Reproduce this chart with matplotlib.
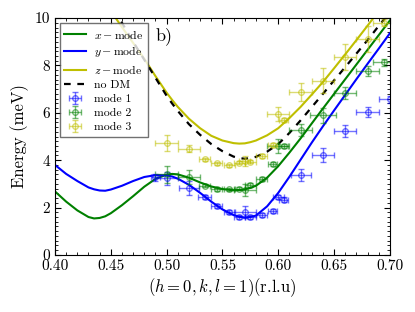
import numpy as np
import matplotlib
matplotlib.use('Agg')
import matplotlib.pyplot as plt
from matplotlib.ticker import MultipleLocator

plt.rcParams['font.family'] = 'serif'
plt.rcParams['font.serif'] = ['cmr10']
plt.rcParams['mathtext.fontset'] = 'cm'
plt.rcParams['axes.formatter.use_mathtext'] = True
plt.rcParams['axes.unicode_minus'] = False

# theory curves
k_curve = [0.40, 0.41, 0.42, 0.43, 0.435, 0.44, 0.445, 0.45, 0.46, 0.47, 0.48, 0.49, 0.50,
           0.505, 0.51, 0.52, 0.53, 0.54, 0.55, 0.56, 0.565, 0.57, 0.575, 0.58, 0.59, 0.60,
           0.61, 0.62, 0.63, 0.64, 0.65, 0.66, 0.67, 0.68, 0.69, 0.70]
x_mode = [2.68, 2.25, 1.88, 1.60, 1.54, 1.56, 1.63, 1.76, 2.10, 2.48, 2.88, 3.21, 3.39,
          3.42, 3.40, 3.26, 3.06, 2.89, 2.78, 2.73, 2.74, 2.77, 2.83, 2.92, 3.26, 3.75,
          4.32, 4.92, 5.55, 6.18, 6.80, 7.42, 8.04, 8.66, 9.28, 9.90]
y_mode = [3.80, 3.42, 3.12, 2.85, 2.77, 2.72, 2.71, 2.76, 2.92, 3.12, 3.29, 3.37, 3.36,
          3.31, 3.22, 2.96, 2.62, 2.25, 1.92, 1.68, 1.61, 1.58, 1.60, 1.66, 2.05, 2.62,
          3.30, 4.02, 4.74, 5.43, 6.10, 6.76, 7.42, 8.07, 8.71, 9.36]
z_mode = [12.0, 11.0, 11.0, 11.0, 11.0, 11.0, 10.65, 10.30, 9.62, 8.95, 8.28, 7.55, 6.85,
          6.54, 6.25, 5.75, 5.35, 5.03, 4.83, 4.72, 4.70, 4.71, 4.76, 4.83, 5.05, 5.35,
          5.78, 6.25, 6.77, 7.30, 7.88, 8.47, 9.07, 9.68, 10.30, 10.9]
no_dm = [12.0, 11.0, 11.0, 11.0, 11.0, 11.0, 10.95, 10.55, 9.80, 9.00, 8.24, 7.48, 6.72,
         6.39, 6.08, 5.52, 5.07, 4.68, 4.38, 4.15, 4.09, 4.06, 4.09, 4.14, 4.36, 4.68,
         5.15, 5.68, 6.24, 6.80, 7.37, 7.93, 8.50, 9.07, 9.67, 10.25]

# measured modes
k1 = [0.490, 0.500, 0.520, 0.534, 0.545, 0.556, 0.565, 0.570, 0.575, 0.585,
      0.595, 0.600, 0.605, 0.620, 0.640, 0.660, 0.680, 0.700]
e1 = [3.27, 3.23, 2.81, 2.46, 2.06, 1.80, 1.61, 1.81, 1.61, 1.68,
      1.87, 2.45, 2.33, 3.37, 4.21, 5.23, 6.04, 6.57]
dk1 = [0.004, 0.01, 0.009, 0.006, 0.005, 0.005, 0.005, 0.01, 0.005, 0.005,
       0.004, 0.005, 0.004, 0.009, 0.01, 0.01, 0.01, 0.01]
de1 = [0.15, 0.28, 0.3, 0.08, 0.08, 0.08, 0.08, 0.25, 0.08, 0.08,
       0.08, 0.1, 0.1, 0.25, 0.3, 0.25, 0.2, 0.15]

k2 = [0.500, 0.520, 0.534, 0.545, 0.556, 0.565, 0.570, 0.575, 0.585, 0.595,
      0.600, 0.605, 0.620, 0.640, 0.660, 0.680, 0.695]
e2 = [3.40, 3.30, 2.93, 2.77, 2.77, 2.80, 2.75, 2.95, 3.20, 3.84,
      4.59, 4.59, 5.29, 5.89, 6.85, 7.76, 8.14]
dk2 = [0.01, 0.01, 0.005, 0.005, 0.005, 0.005, 0.01, 0.005, 0.005, 0.004,
       0.01, 0.004, 0.01, 0.012, 0.01, 0.01, 0.01]
de2 = [0.35, 0.3, 0.08, 0.06, 0.06, 0.06, 0.25, 0.08, 0.08, 0.08,
       0.3, 0.08, 0.25, 0.3, 0.25, 0.2, 0.15]

k3 = [0.500, 0.520, 0.534, 0.545, 0.556, 0.565, 0.570, 0.575, 0.585, 0.595,
      0.600, 0.605, 0.620, 0.640, 0.660, 0.680, 0.695]
e3 = [4.73, 4.49, 4.03, 3.86, 3.79, 3.90, 3.96, 3.94, 4.17, 4.63,
      5.94, 5.70, 6.86, 7.36, 8.35, 9.12, 9.80]
dk3 = [0.01, 0.01, 0.005, 0.005, 0.005, 0.005, 0.005, 0.005, 0.005, 0.004,
       0.01, 0.004, 0.01, 0.01, 0.01, 0.01, 0.01]
de3 = [0.35, 0.15, 0.08, 0.06, 0.06, 0.06, 0.2, 0.08, 0.08, 0.08,
       0.3, 0.08, 0.38, 0.53, 0.55, 0.55, 0.15]

fig = plt.figure(figsize=(4.15, 3.12), dpi=100)
ax = fig.add_axes([0.1325, 0.183, 0.807, 0.759])

l1, = ax.plot(k_curve, x_mode, color='g', lw=1.5, label=r'$x-\mathrm{mode}$')
l2, = ax.plot(k_curve, y_mode, color='b', lw=1.5, label=r'$y-\mathrm{mode}$')
l3, = ax.plot(k_curve, z_mode, color='y', lw=1.5, label=r'$z-\mathrm{mode}$')
l4, = ax.plot(k_curve, no_dm, color='k', lw=1.6, ls='--', dashes=(3, 3), label='no DM')

eb_kw = dict(fmt='o', ms=4, mfc='none', mew=1, capsize=2, elinewidth=1, alpha=0.55)
m1 = ax.errorbar(k1, e1, yerr=de1, xerr=dk1, color='b', label='mode 1', **eb_kw)
m2 = ax.errorbar(k2, e2, yerr=de2, xerr=dk2, color='g', label='mode 2', **eb_kw)
m3 = ax.errorbar(k3, e3, yerr=de3, xerr=dk3, color='y', label='mode 3', **eb_kw)

ax.set_xlim(0.40, 0.70)
ax.set_ylim(0, 10)
ax.xaxis.set_major_locator(MultipleLocator(0.05))
ax.xaxis.set_minor_locator(MultipleLocator(0.01))
ax.yaxis.set_major_locator(MultipleLocator(2))
ax.yaxis.set_minor_locator(MultipleLocator(0.2))
ax.tick_params(which='both', direction='in', top=True, right=True, labelsize=11)
ax.tick_params(which='major', length=4)
ax.tick_params(which='minor', length=2)
ax.xaxis.set_major_formatter(plt.FuncFormatter(lambda v, p: '%.2f' % v))
ax.yaxis.set_major_formatter(plt.FuncFormatter(lambda v, p: '%d' % v))

ax.set_xlabel(r'$(h=0,k,l=1)$(r.l.u)', fontsize=12, labelpad=2)
ax.set_ylabel('Energy (meV)', fontsize=12, labelpad=4)
ax.text(0.325, 0.924, 'b)', transform=ax.transAxes, fontsize=13,
        ha='center', va='center')

leg = ax.legend(handles=[l1, l2, l3, l4, m1, m2, m3], loc='upper left',
                fontsize=8.5, handlelength=1.8, frameon=True, fancybox=False,
                borderaxespad=0.4, labelspacing=0.32, borderpad=0.4,
                handletextpad=0.7)
leg.get_frame().set_edgecolor('0.3')
leg.get_frame().set_linewidth(1.0)

fig.savefig('out.png', dpi=100)
